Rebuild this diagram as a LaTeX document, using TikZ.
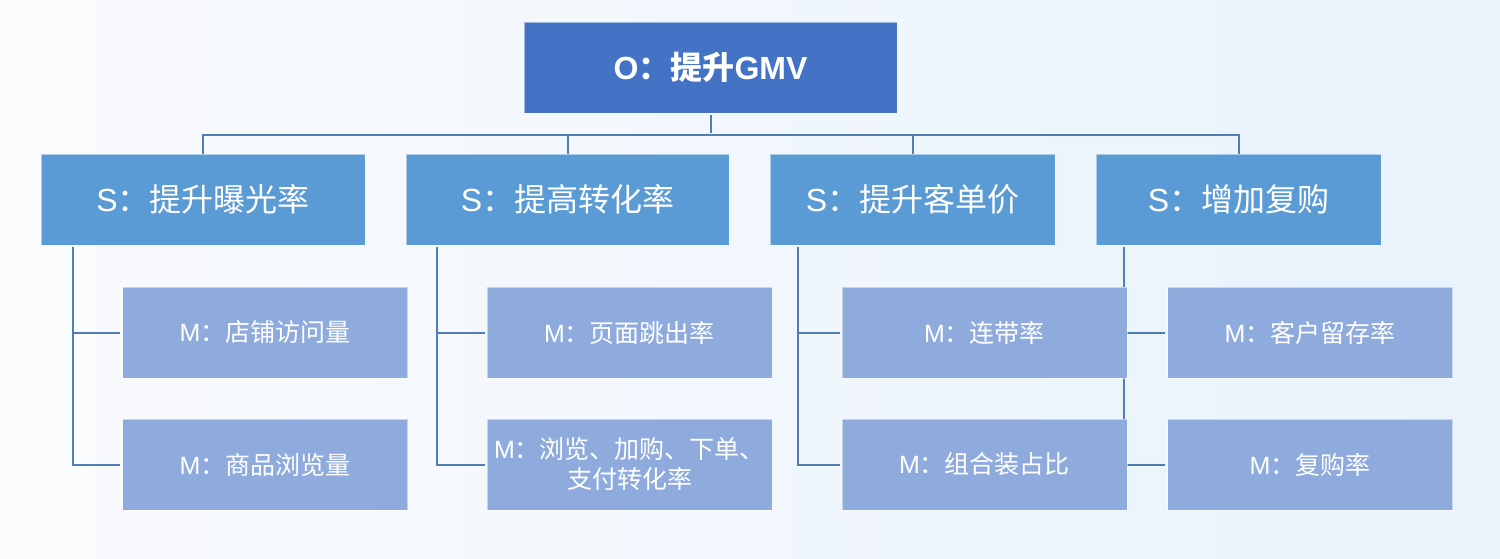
\documentclass[tikz,border=0pt]{standalone}
\usepackage{fontspec}
\setmainfont{Liberation Sans}
\newfontfamily\cjk{Noto Sans CJK SC}
\newcommand{\zh}[1]{{\cjk #1}}
\definecolor{oblue}{RGB}{68,114,196}
\definecolor{sblue}{RGB}{91,155,213}
\definecolor{mblue}{RGB}{143,170,220}
\definecolor{lineblue}{RGB}{78,126,180}
\definecolor{bgA}{RGB}{250,251,253}
\definecolor{bgB}{RGB}{232,243,252}
\pgfdeclarelayer{bg}
\pgfdeclarelayer{lines}
\pgfsetlayers{bg,lines,main}
\tikzset{
  box/.style={rectangle, inner sep=0pt, minimum height=91pt, text=white, align=center, draw=white, draw opacity=0.5, line width=0.8pt},
  obox/.style={box, fill=oblue, minimum width=373pt, font=\fontsize{32}{36}\selectfont\bfseries},
  sbox/.style={box, fill=sblue, font=\fontsize{32}{36}\selectfont},
  mbox/.style={box, fill=mblue, minimum width=285pt, font=\fontsize{25}{30}\selectfont},
  conn/.style={draw=lineblue, line width=2pt}
}
\begin{document}
\begin{tikzpicture}[x=1pt,y=-1pt]
\begin{pgfonlayer}{bg}
\shade[left color=bgA, right color=bgB] (0,0) rectangle (1500,559);
\end{pgfonlayer}
\useasboundingbox (0,0) rectangle (1500,559);

\node[obox] (O) at (710.5,67.5) {O\zh{：提升}GMV};

\node[sbox, minimum width=324pt] (S1) at (203,199.5) {S\zh{：提升曝光率}};
\node[sbox, minimum width=323pt] (S2) at (567.5,199.5) {S\zh{：提高转化率}};
\node[sbox, minimum width=285pt] (S3) at (912.5,199.5) {S\zh{：提升客单价}};
\node[sbox, minimum width=285pt] (S4) at (1238.5,199.5) {S\zh{：增加复购}};

\node[mbox] (M11) at (265,332.5) {M\zh{：店铺访问量}};
\node[mbox] (M12) at (265,464.5) {M\zh{：商品浏览量}};
\node[mbox] (M21) at (629.5,332.5) {M\zh{：页面跳出率}};
\node[mbox] (M22) at (629.5,464.5) {M\zh{：浏览、加购、下单、}\\\zh{支付转化率}};
\node[mbox] (M31) at (984.5,332.5) {M\zh{：连带率}};
\node[mbox] (M32) at (984.5,464.5) {M\zh{：组合装占比}};
\node[mbox] (M41) at (1310,332.5) {M\zh{：客户留存率}};
\node[mbox] (M42) at (1310,464.5) {M\zh{：复购率}};

\coordinate (T1) at (73,247);
\coordinate (T2) at (437,247);
\coordinate (T3) at (798,247);
\coordinate (T4) at (1124,247);

\begin{pgfonlayer}{lines}
\draw[conn] ([yshift=-2pt]O.south) -- ++(0,18);
\draw[conn] ([yshift=-1pt]S1.north) -- ++(0,-20) -| ([yshift=-1pt]S4.north);
\draw[conn] ([yshift=-1pt]S2.north) -- ++(0,-21);
\draw[conn] ([yshift=-1pt]S3.north) -- ++(0,-21);

\draw[conn] (T1) |- ([xshift=-2pt]M12.west);
\draw[conn] (T1 |- M11.west) -- ([xshift=-2pt]M11.west);
\draw[conn] (T2) |- ([xshift=-2pt]M22.west);
\draw[conn] (T2 |- M21.west) -- ([xshift=-2pt]M21.west);
\draw[conn] (T3) |- ([xshift=-2pt]M32.west);
\draw[conn] (T3 |- M31.west) -- ([xshift=-2pt]M31.west);
\draw[conn] (T4) |- ([xshift=-2pt]M42.west);
\draw[conn] (T4 |- M41.west) -- ([xshift=-2pt]M41.west);
\end{pgfonlayer}
\end{tikzpicture}
\end{document}
